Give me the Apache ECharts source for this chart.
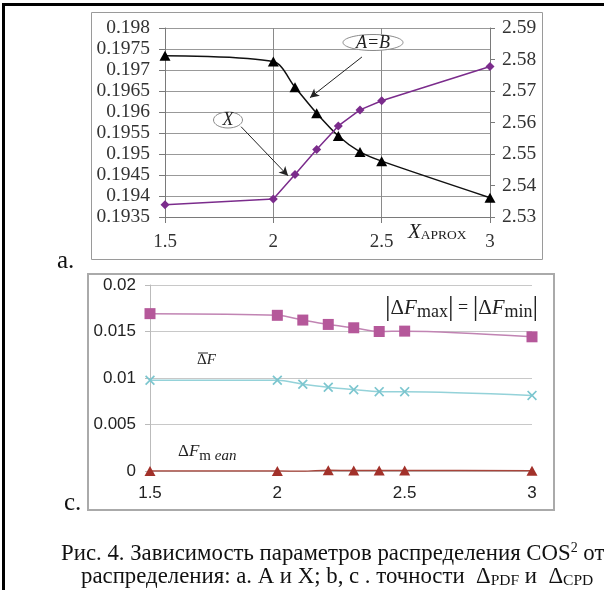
<!DOCTYPE html>
<html><head><meta charset="utf-8">
<script src="https://cdn.jsdelivr.net/npm/echarts/dist/echarts.min.js"></script>
<style>html,body{margin:0;padding:0;background:#fff}#c{width:604px;height:590px}</style>
</head><body><div id="c"></div>
<script>
// ---- data ----
const xApprox = [1.5, 2, 2.1, 2.2, 2.3, 2.4, 2.5, 3];
const seriesAB = [0.19734, 0.19720, 0.19659, 0.19597, 0.19543, 0.19505, 0.19483, 0.19396];
const seriesX = [2.5339, 2.5357, 2.5435, 2.5514, 2.5589, 2.5640, 2.5669, 2.5778];
const dFmaxmin = [0.01692, 0.01674, 0.01623, 0.01576, 0.01540, 0.01500, 0.01504, 0.01443];
const dFbar = [0.00976, 0.00976, 0.00933, 0.00900, 0.00875, 0.00853, 0.00853, 0.00813];
const dFmean = [0, 0, -0.00003, 0.00008, 0.00005, 0.00005, 0.00005, 0.00003];
const ticksX = ['1.5', '2', '2.5', '3'];
const ticksTopLeft = ['0.1935','0.194','0.1945','0.195','0.1955','0.196','0.1965','0.197','0.1975','0.198'];
const ticksTopRight = ['2.53','2.54','2.55','2.56','2.57','2.58','2.59'];
const ticksBottom = ['0','0.005','0.01','0.015','0.02'];

const fmt = (arr) => (v) => arr.find(t => Math.abs(+t - v) < 1e-7) || '';
const pairs = (ys) => xApprox.map((x, i) => [x, ys[i]]);
const serif = 'Liberation Serif';
const sans = 'Liberation Sans';

const chart = echarts.init(document.getElementById('c'), null, {renderer: 'canvas'});
const xPath = 'path://M0,1.2L1.2,0L5,3.8L8.8,0L10,1.2L6.2,5L10,8.8L8.8,10L5,6.2L1.2,10L0,8.8L3.8,5Z';

chart.setOption({
  animation: false,
  backgroundColor: '#fff',
  grid: [
    {left: 165, top: 28, width: 325, height: 189},
    {left: 150, top: 285, width: 382, height: 186}
  ],
  xAxis: [
    {type: 'value', gridIndex: 0, min: 1.5, max: 3, interval: 0.5,
     axisLine: {show: true, lineStyle: {color: '#7a7a7a', width: 1}},
     axisTick: {show: true, length: 6, lineStyle: {color: '#7a7a7a'}},
     splitLine: {show: true, lineStyle: {color: '#8a8a8a', width: 1}},
     axisLabel: {fontFamily: serif, fontSize: 19, color: '#333', margin: 16, formatter: fmt(ticksX)}},
    {type: 'value', gridIndex: 1, min: 1.5, max: 3, interval: 0.5,
     axisLine: {show: true, lineStyle: {color: '#bbbbbb', width: 1}},
     axisTick: {show: false},
     splitLine: {show: false},
     axisLabel: {fontFamily: sans, fontSize: 17, color: '#222', margin: 14, formatter: fmt(ticksX)}}
  ],
  yAxis: [
    {type: 'value', gridIndex: 0, position: 'left', min: 0.1935, max: 0.198, interval: 0.0005,
     axisLine: {show: true, lineStyle: {color: '#7a7a7a'}},
     axisTick: {show: true, length: 6, lineStyle: {color: '#7a7a7a'}},
     splitLine: {show: true, lineStyle: {color: '#999', width: 1}},
     axisLabel: {fontFamily: serif, fontSize: 19.5, color: '#333', margin: 15, formatter: fmt(ticksTopLeft)}},
    {type: 'value', gridIndex: 0, position: 'right', min: 2.53, max: 2.59, interval: 0.01,
     axisLine: {show: true, lineStyle: {color: '#7a7a7a'}},
     axisTick: {show: true, length: 5, lineStyle: {color: '#7a7a7a'}},
     splitLine: {show: false},
     axisLabel: {fontFamily: serif, fontSize: 19.5, color: '#333', margin: 12, formatter: fmt(ticksTopRight)}},
    {type: 'value', gridIndex: 1, min: 0, max: 0.02, interval: 0.005,
     axisLine: {show: true, lineStyle: {color: '#bbbbbb'}},
     axisTick: {show: true, length: 5, lineStyle: {color: '#bbbbbb'}},
     splitLine: {show: true, lineStyle: {color: '#c8c8c8', width: 1}},
     axisLabel: {fontFamily: sans, fontSize: 17, color: '#222', margin: 14, formatter: fmt(ticksBottom)}}
  ],
  series: [
    {name: 'A=B', type: 'line', xAxisIndex: 0, yAxisIndex: 0, data: pairs(seriesAB),
     smooth: 0.3, symbol: 'triangle', symbolSize: [11, 10],
     itemStyle: {color: '#000'}, lineStyle: {color: '#111', width: 1.5}, z: 3,
     markLine: {silent: true, symbol: ['none', 'arrow'], symbolSize: [7, 9],
       label: {show: false}, lineStyle: {color: '#222', width: 1, type: 'solid'},
       data: [
         [{coord: [2.409, 0.19731]}, {coord: [2.169, 0.19634]}],
         [{coord: [1.851, 0.19565]}, {coord: [2.068, 0.19448]}]
       ]}},
    {name: 'X', type: 'line', xAxisIndex: 0, yAxisIndex: 1, data: pairs(seriesX),
     symbol: 'diamond', symbolSize: 9,
     itemStyle: {color: '#7B2C8C'}, lineStyle: {color: '#7B2C8C', width: 1.5}, z: 3},
    {name: 'dFmaxmin', type: 'line', xAxisIndex: 1, yAxisIndex: 2, data: pairs(dFmaxmin),
     smooth: 0.3, symbol: 'rect', symbolSize: 11,
     itemStyle: {color: '#B5589A'}, lineStyle: {color: '#C184B3', width: 1.5}, z: 3},
    {name: 'dFbar', type: 'line', xAxisIndex: 1, yAxisIndex: 2, data: pairs(dFbar),
     smooth: 0.3, symbol: xPath, symbolSize: 10,
     itemStyle: {color: '#7CC6CF'}, lineStyle: {color: '#94D2D9', width: 1.5}, z: 3},
    {name: 'dFmean', type: 'line', xAxisIndex: 1, yAxisIndex: 2, data: pairs(dFmean),
     smooth: 0.3, symbol: 'triangle', symbolSize: [11, 10],
     itemStyle: {color: '#A2312A'}, lineStyle: {color: '#A8443A', width: 1.5}, z: 3}
  ],
  graphic: [
    {type: 'rect', shape: {x: 3.5, y: 4.5, width: 800, height: 800}, style: {fill: 'none', stroke: '#000', lineWidth: 3}, z: 100},
    {type: 'rect', shape: {x: 91.5, y: 12.5, width: 451, height: 247}, style: {fill: 'none', stroke: '#9a9a9a', lineWidth: 1}, z: 100},
    {type: 'rect', shape: {x: 88, y: 274, width: 466, height: 236}, style: {fill: 'none', stroke: '#aaaaaa', lineWidth: 2}, z: 100},
    {type: 'ellipse', shape: {cx: 373, cy: 42.5, rx: 30, ry: 8}, style: {fill: '#fff', stroke: '#8a8a8a', lineWidth: 1}, z: 100},
    {type: 'text', style: {x: 373, y: 43, text: 'A=B', font: 'italic 18px "Liberation Serif"', fill: '#222', align: 'center', verticalAlign: 'middle'}, z: 101},
    {type: 'ellipse', shape: {cx: 228, cy: 120, rx: 14.5, ry: 8}, style: {fill: '#fff', stroke: '#8a8a8a', lineWidth: 1}, z: 100},
    {type: 'text', style: {x: 228, y: 120.5, text: 'X', font: 'italic 18px "Liberation Serif"', fill: '#222', align: 'center', verticalAlign: 'middle'}, z: 101},
    {type: 'text', style: {x: 408, y: 232, text: '{x|X}{s|APROX}', verticalAlign: 'middle',
      rich: {x: {font: 'italic 21px "Liberation Serif"', fill: '#222'},
             s: {font: '13.5px "Liberation Serif"', fill: '#222', padding: [7, 0, 0, 0]}}}, z: 101},
    {type: 'text', style: {x: 57, y: 261, text: 'a.', font: '25px "Liberation Serif"', fill: '#111', verticalAlign: 'middle'}, z: 101},
    {type: 'text', style: {x: 64, y: 503, text: 'c.', font: '25px "Liberation Serif"', fill: '#111', verticalAlign: 'middle'}, z: 101},
    {type: 'text', style: {x: 385, y: 308, verticalAlign: 'middle',
      text: '{b||}{d|Δ}{f|F}{s|max}{b||}{e| = }{b||}{d|Δ}{f|F}{s|min}{b||}',
      rich: {b: {font: '28px "Liberation Serif"', fill: '#222'},
             d: {font: '21px "Liberation Serif"', fill: '#222'},
             f: {font: 'italic 21px "Liberation Serif"', fill: '#222'},
             s: {font: '18px "Liberation Serif"', fill: '#222', padding: [9, 0, 0, 0]},
             e: {font: '18px "Liberation Serif"', fill: '#222'}}}, z: 101},
    {type: 'text', style: {x: 197, y: 360, verticalAlign: 'middle',
      text: '{d|Δ}{f|F}',
      rich: {d: {font: '15px "Liberation Serif"', fill: '#222'},
             f: {font: 'italic 15px "Liberation Serif"', fill: '#222'}}}, z: 101},
    {type: 'line', shape: {x1: 198, y1: 353, x2: 208, y2: 353}, style: {stroke: '#222', lineWidth: 1}, z: 101},
    {type: 'text', style: {x: 178, y: 452, verticalAlign: 'middle',
      text: '{d|Δ}{f|F}{m|m }{s|ean}',
      rich: {d: {font: '17px "Liberation Serif"', fill: '#222'},
             f: {font: 'italic 17px "Liberation Serif"', fill: '#222'},
             m: {font: '15px "Liberation Serif"', fill: '#222', padding: [8, 0, 0, 0]},
             s: {font: 'italic 15px "Liberation Serif"', fill: '#222', padding: [8, 0, 0, 0]}}}, z: 101},
    {type: 'text', style: {x: 61, y: 554, verticalAlign: 'middle',
      text: '{t|Рис. 4. Зависимость параметров распределения COS}{p|2}{t| от}',
      rich: {t: {font: '22.8px "Liberation Serif"', fill: '#111'},
             p: {font: '14px "Liberation Serif"', fill: '#111', padding: [0, 0, 11, 0]}}}, z: 101},
    {type: 'text', style: {x: 81, y: 577, verticalAlign: 'middle',
      text: '{t|распределения: a. A и X; b, c . точности  Δ}{s|PDF}{g| и  Δ}{s|CPD}',
      rich: {t: {font: '22.8px "Liberation Serif"', fill: '#111'},
             g: {font: '22.8px "Liberation Serif"', fill: '#111'},
             s: {font: '15.5px "Liberation Serif"', fill: '#111', padding: [8, 0, 0, 0]}}}, z: 101}
  ]
});
</script>
</body></html>
